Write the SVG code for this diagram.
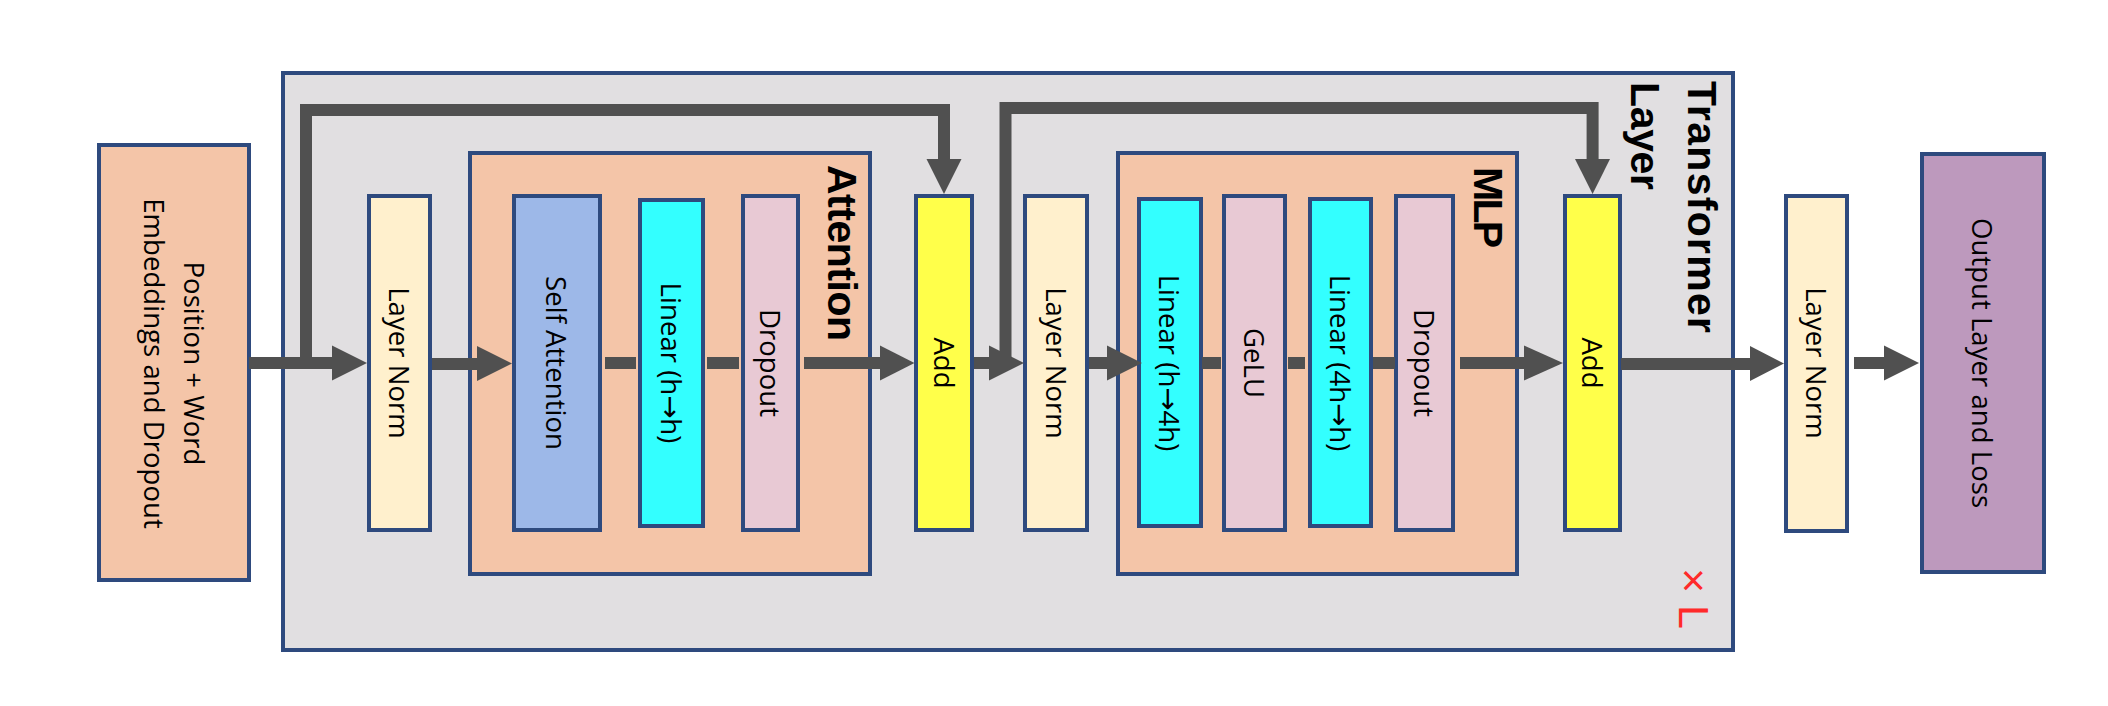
<svg xmlns="http://www.w3.org/2000/svg" width="2108" height="706" viewBox="0 0 2108 706">
<style>
  .box{stroke:#2e4a7e;stroke-width:4}
  .tl{fill:#e1dfe1}
  .peach{fill:#f4c5a8}
  .ln{fill:#fff0cd}
  .sa{fill:#9db8e8}
  .lin{fill:#33ffff}
  .pink{fill:#e8c9d4}
  .add{fill:#ffff4a}
  .out{fill:#bd99bd}
  .lbl{font-family:"Open Sans","DejaVu Sans",sans-serif;font-size:27.6px;fill:#000;text-anchor:middle}
  .ttl{font-family:"Liberation Sans",Arial,sans-serif;font-weight:bold;font-size:41px;fill:#000}
  .wire{fill:none;stroke:#505050;stroke-width:12;stroke-linejoin:miter;stroke-linecap:butt}
  .head{fill:#505050}
  .rep{font-family:"Liberation Sans",Arial,sans-serif;font-size:43px;fill:#ff2a2a}
</style>
<rect width="2108" height="706" fill="#ffffff"/>

<g id="transformer-layer">
  <rect class="box tl" x="283" y="73" width="1450" height="577"/>
  <text class="ttl" transform="translate(1688,81) rotate(90)" textLength="252">Transformer</text>
  <text class="ttl" transform="translate(1631,82) rotate(90)" textLength="108">Layer</text>
  <text class="rep" transform="translate(1679,568) rotate(90)">× L</text>
</g>

<g id="embeddings">
  <rect class="box peach" x="99" y="145" width="150" height="435"/>
  <text class="lbl" transform="translate(184,363.5) rotate(90)">Position + Word</text>
  <text class="lbl" transform="translate(144,363.5) rotate(90)">Embeddings and Dropout</text>
</g>

<g id="layernorm1">
  <rect class="box ln" x="369" y="196" width="61" height="334"/>
  <text class="lbl" transform="translate(389,363) rotate(90)">Layer Norm</text>
</g>

<g id="attention">
  <rect class="box peach" x="470" y="153" width="400" height="421"/>
  <text class="ttl" transform="translate(828,165) rotate(90)" textLength="176">Attention</text>
</g>

<g id="self-attention">
  <rect class="box sa" x="514" y="196" width="86" height="334"/>
  <text class="lbl" transform="translate(546,363) rotate(90)">Self Attention</text>
</g>

<g id="linear-attn">
  <rect class="box lin" x="640" y="200" width="63" height="326"/>
  <text class="lbl" transform="translate(661,363) rotate(90)">Linear (h→h)</text>
</g>

<g id="dropout-attn">
  <rect class="box pink" x="743" y="196" width="55" height="334"/>
  <text class="lbl" transform="translate(760,363) rotate(90)">Dropout</text>
</g>

<g id="add1">
  <rect class="box add" x="916" y="196" width="56" height="334"/>
  <text class="lbl" transform="translate(934,363) rotate(90)">Add</text>
</g>

<g id="layernorm2">
  <rect class="box ln" x="1025" y="196" width="62" height="334"/>
  <text class="lbl" transform="translate(1046,363) rotate(90)">Layer Norm</text>
</g>

<g id="mlp">
  <rect class="box peach" x="1118" y="153" width="399" height="421"/>
  <text class="ttl" transform="translate(1474,167) rotate(90)" textLength="81">MLP</text>
</g>

<g id="linear-up">
  <rect class="box lin" x="1139" y="199" width="62" height="327"/>
  <text class="lbl" transform="translate(1159,363) rotate(90)">Linear (h→4h)</text>
</g>

<g id="gelu">
  <rect class="box pink" x="1224" y="196" width="61" height="334"/>
  <text class="lbl" transform="translate(1244,363) rotate(90)">GeLU</text>
</g>

<g id="linear-down">
  <rect class="box lin" x="1310" y="199" width="61" height="327"/>
  <text class="lbl" transform="translate(1330,363) rotate(90)">Linear (4h→h)</text>
</g>

<g id="dropout-mlp">
  <rect class="box pink" x="1396" y="196" width="57" height="334"/>
  <text class="lbl" transform="translate(1414,363) rotate(90)">Dropout</text>
</g>

<g id="add2">
  <rect class="box add" x="1565" y="196" width="55" height="334"/>
  <text class="lbl" transform="translate(1582,363) rotate(90)">Add</text>
</g>

<g id="layernorm3">
  <rect class="box ln" x="1786" y="196" width="61" height="335"/>
  <text class="lbl" transform="translate(1806,363) rotate(90)">Layer Norm</text>
</g>

<g id="output">
  <rect class="box out" x="1922" y="154" width="122" height="418"/>
  <text class="lbl" transform="translate(1972,363) rotate(90)">Output Layer and Loss</text>
</g>

<g id="connectors">
  <!-- embeddings to layer norm 1 -->
  <line class="wire" x1="249" y1="363" x2="333" y2="363"/>
  <polygon class="head" points="332,345.5 367,363 332,380.5"/>
  <!-- residual 1 -->
  <path class="wire" d="M306,369 V110 H944 V160"/>
  <polygon class="head" points="926.5,159 961.5,159 944,194"/>
  <!-- layer norm 1 to self attention -->
  <line class="wire" x1="432" y1="364" x2="478" y2="364"/>
  <polygon class="head" points="477,346 512,363.5 477,381"/>
  <!-- inner attention links -->
  <line class="wire" x1="605" y1="363" x2="636" y2="363"/>
  <line class="wire" x1="707" y1="363" x2="739" y2="363"/>
  <line class="wire" x1="804" y1="363" x2="881" y2="363"/>
  <polygon class="head" points="880,345.5 914.5,363 880,380.5"/>
  <!-- add1 to layer norm 2 -->
  <line class="wire" x1="974" y1="363" x2="990" y2="363"/>
  <polygon class="head" points="989,345.5 1024,363 989,380.5"/>
  <!-- residual 2 -->
  <path class="wire" d="M1005.5,363 V108 H1592.6 V160"/>
  <polygon class="head" points="1575,159 1610,159 1592.6,194"/>
  <!-- layer norm 2 to MLP -->
  <line class="wire" x1="1089" y1="363" x2="1108" y2="363"/>
  <polygon class="head" points="1107,345.5 1142,363 1107,380.5"/>
  <!-- inner MLP links -->
  <line class="wire" x1="1202" y1="363" x2="1221" y2="363"/>
  <line class="wire" x1="1288" y1="363" x2="1305" y2="363"/>
  <line class="wire" x1="1373" y1="363" x2="1395" y2="363"/>
  <line class="wire" x1="1460" y1="363" x2="1525" y2="363"/>
  <polygon class="head" points="1524,345.5 1563,363 1524,380.5"/>
  <!-- add2 to layer norm 3 -->
  <line class="wire" x1="1621" y1="364" x2="1751" y2="364"/>
  <polygon class="head" points="1750,346 1784,363.5 1750,381"/>
  <!-- layer norm 3 to output -->
  <line class="wire" x1="1854" y1="363" x2="1885" y2="363"/>
  <polygon class="head" points="1884,345.5 1919,363 1884,380.5"/>
</g>
</svg>
